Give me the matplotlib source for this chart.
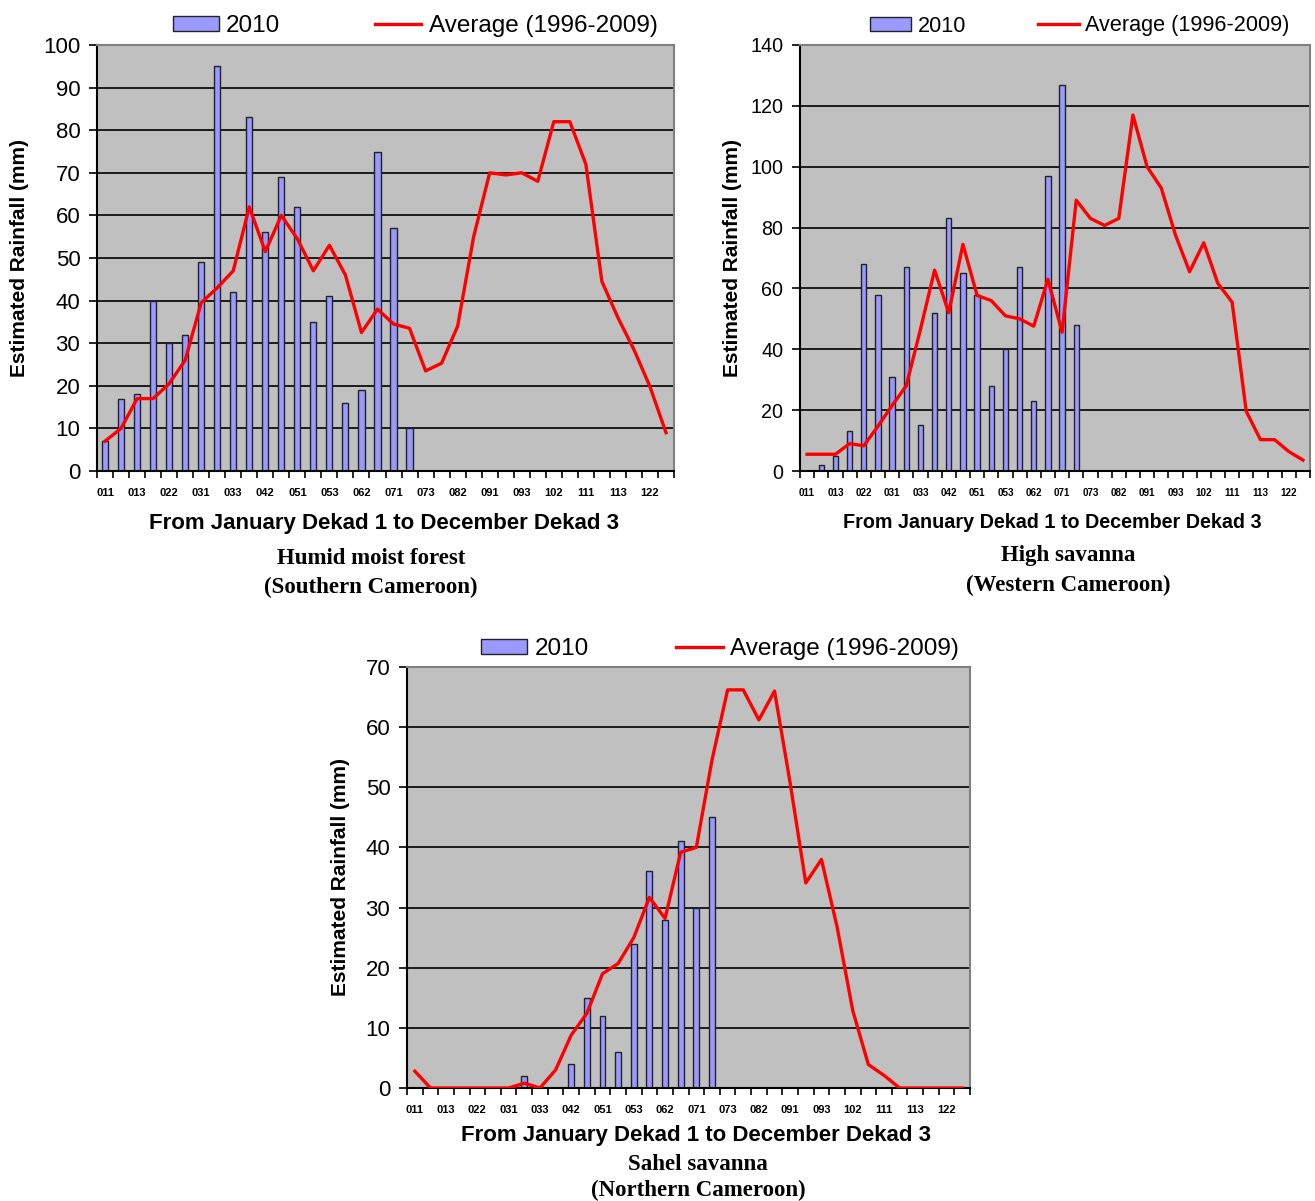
import numpy as np
import matplotlib
matplotlib.use("Agg")
import matplotlib.pyplot as plt
from matplotlib.patches import Patch
from matplotlib.lines import Line2D

W, H = 1315, 1201

dekads = ["011", "012", "013", "021", "022", "023", "031", "032", "033",
          "041", "042", "043", "051", "052", "053", "061", "062", "063",
          "071", "072", "073", "081", "082", "083", "091", "092", "093",
          "101", "102", "103", "111", "112", "113", "121", "122", "123"]

# Humid moist forest (Southern Cameroon)
forest_2010 = [7, 17, 18, 40, 30, 32, 49, 95, 42, 83, 56, 69, 62, 35, 41, 16, 19, 75, 57, 10]
forest_avg = [7, 10, 17, 17, 20.5, 26, 39.5, 43, 47, 62, 51.5, 60, 54.5, 47, 53, 46,
              32.5, 38, 34.5, 33.5, 23.5, 25.3, 34, 55, 70, 69.5, 70, 68, 82, 82,
              72, 44.5, 36, 28.5, 19.8, 9]

# High savanna (Western Cameroon)
high_2010 = [0, 2, 5, 13, 68, 58, 31, 67, 15, 52, 83, 65, 58, 28, 40, 67, 23, 97, 127, 48]
high_avg = [5.5, 5.5, 5.5, 9, 8.3, 14.7, 21.5, 28, 46.5, 66, 52, 74.5, 57.7, 56, 51,
            50, 47.6, 63, 45.6, 89, 83, 80.7, 83, 117, 100, 93, 77.6, 65.5, 75,
            61.6, 55.5, 19.6, 10.3, 10.3, 6.4, 3.6]

# Sahel savanna (Northern Cameroon)
sahel_2010 = [0, 0, 0, 0, 0, 0, 0, 2, 0, 0, 4, 15, 12, 6, 24, 36, 28, 41, 30, 45]
sahel_avg = [2.8, 0, 0, 0, 0, 0, 0, 0.8, 0, 3, 8.8, 12.4, 19, 20.7, 25, 31.7, 28.2,
             39.2, 40, 54.5, 66.2, 66.2, 61.2, 66, 50.7, 34.1, 38, 26.8, 12.9, 3.9,
             2.1, 0, 0, 0, 0, 0]

SANS = "Liberation Sans"
SERIF = "Liberation Serif"
BAR_COLOR = "#9999ff"


def fx(x):
    return x / W


def fy(y):
    return 1 - y / H


def draw_panel(fig, box, bars, avg, ymax, ystep, legend_xy, colsp, ylab_x,
               xlab_xy, sub_x, sub_y, subtitle, k=1.0):
    # k = font scale of the chart (the western panel was pasted a bit smaller)
    left, top, right, bottom = box
    ax = fig.add_axes([fx(left), fy(bottom), fx(right) - fx(left), fy(top) - fy(bottom)])
    ax.set_facecolor("#c0c0c0")
    ax.set_axisbelow(True)

    idx = np.arange(len(dekads))
    ax.bar(np.arange(len(bars)), bars, width=0.38, color=BAR_COLOR,
           edgecolor="#222222", linewidth=1.0, zorder=2)
    ax.plot(idx, avg, color="#ff0000", linewidth=2.4, zorder=3)

    ax.set_xlim(-0.5, len(dekads) - 0.5)
    ax.set_ylim(0, ymax)
    ax.set_yticks(np.arange(0, ymax + 1, ystep))
    ax.yaxis.grid(True, color="black", linewidth=1.2)
    ax.tick_params(axis="y", labelsize=16 * k, length=6, width=1.2, pad=6)
    for lbl in ax.get_yticklabels():
        lbl.set_fontfamily(SANS)

    # category ticks between dekads, labels on every other dekad
    ax.set_xticks(np.arange(-0.5, len(dekads), 1))
    ax.set_xticklabels([])
    ax.tick_params(axis="x", which="major", length=5, width=1.2)
    ax.set_xticks(idx[::2], minor=True)
    ax.set_xticklabels(dekads[::2], minor=True, fontsize=8 * k,
                       fontweight="bold", fontfamily=SANS)
    ax.tick_params(axis="x", which="minor", length=0, pad=12)

    for side in ["top", "right"]:
        ax.spines[side].set_color("#808080")
        ax.spines[side].set_linewidth(1.5)
    for side in ["left", "bottom"]:
        ax.spines[side].set_color("black")
        ax.spines[side].set_linewidth(1.5)

    handles = [Patch(facecolor=BAR_COLOR, edgecolor="#222222", linewidth=1.0),
               Line2D([0], [0], color="#ff0000", linewidth=2.4)]
    ax.legend(handles, ["2010", "Average (1996-2009)"], loc="center",
              bbox_to_anchor=(fx(legend_xy[0]), fy(legend_xy[1])),
              bbox_transform=fig.transFigure, ncol=2, frameon=False,
              prop={"family": SANS, "size": 17.5 * k}, columnspacing=colsp,
              handlelength=1.9, handleheight=0.6, handletextpad=0.3, borderpad=0)

    fig.text(fx(ylab_x), fy((top + bottom) / 2), "Estimated Rainfall (mm)", rotation=90,
             ha="center", va="center", fontsize=15, fontweight="bold", fontfamily=SANS)
    fig.text(fx(xlab_xy[0]), fy(xlab_xy[1]), "From January Dekad 1 to December Dekad 3",
             ha="center", va="center", fontsize=16 * k, fontweight="bold", fontfamily=SANS)
    for line, yy in zip(subtitle, sub_y):
        fig.text(fx(sub_x), fy(yy), line, ha="center", va="center", fontsize=16.5,
                 fontweight="bold", fontfamily=SERIF)
    return ax


fig = plt.figure(figsize=(W / 100, H / 100), dpi=100)

draw_panel(fig, (97, 45, 674, 471), forest_2010, forest_avg, 100, 10,
           (415, 26), 3.9, 20, (384, 523), 371, (559, 587),
           ["Humid moist forest", "(Southern Cameroon)"])
draw_panel(fig, (800, 45, 1310, 471), high_2010, high_avg, 140, 20,
           (1080, 26), 3.3, 733, (1052, 522), 1068, (556, 585),
           ["High savanna", "(Western Cameroon)"], k=0.89)
draw_panel(fig, (407, 667, 970, 1088), sahel_2010, sahel_avg, 70, 10,
           (720, 649), 3.6, 340, (696, 1135), 698, (1165, 1190),
           ["Sahel savanna", "(Northern Cameroon)"])

fig.savefig("out.png", dpi=100)
